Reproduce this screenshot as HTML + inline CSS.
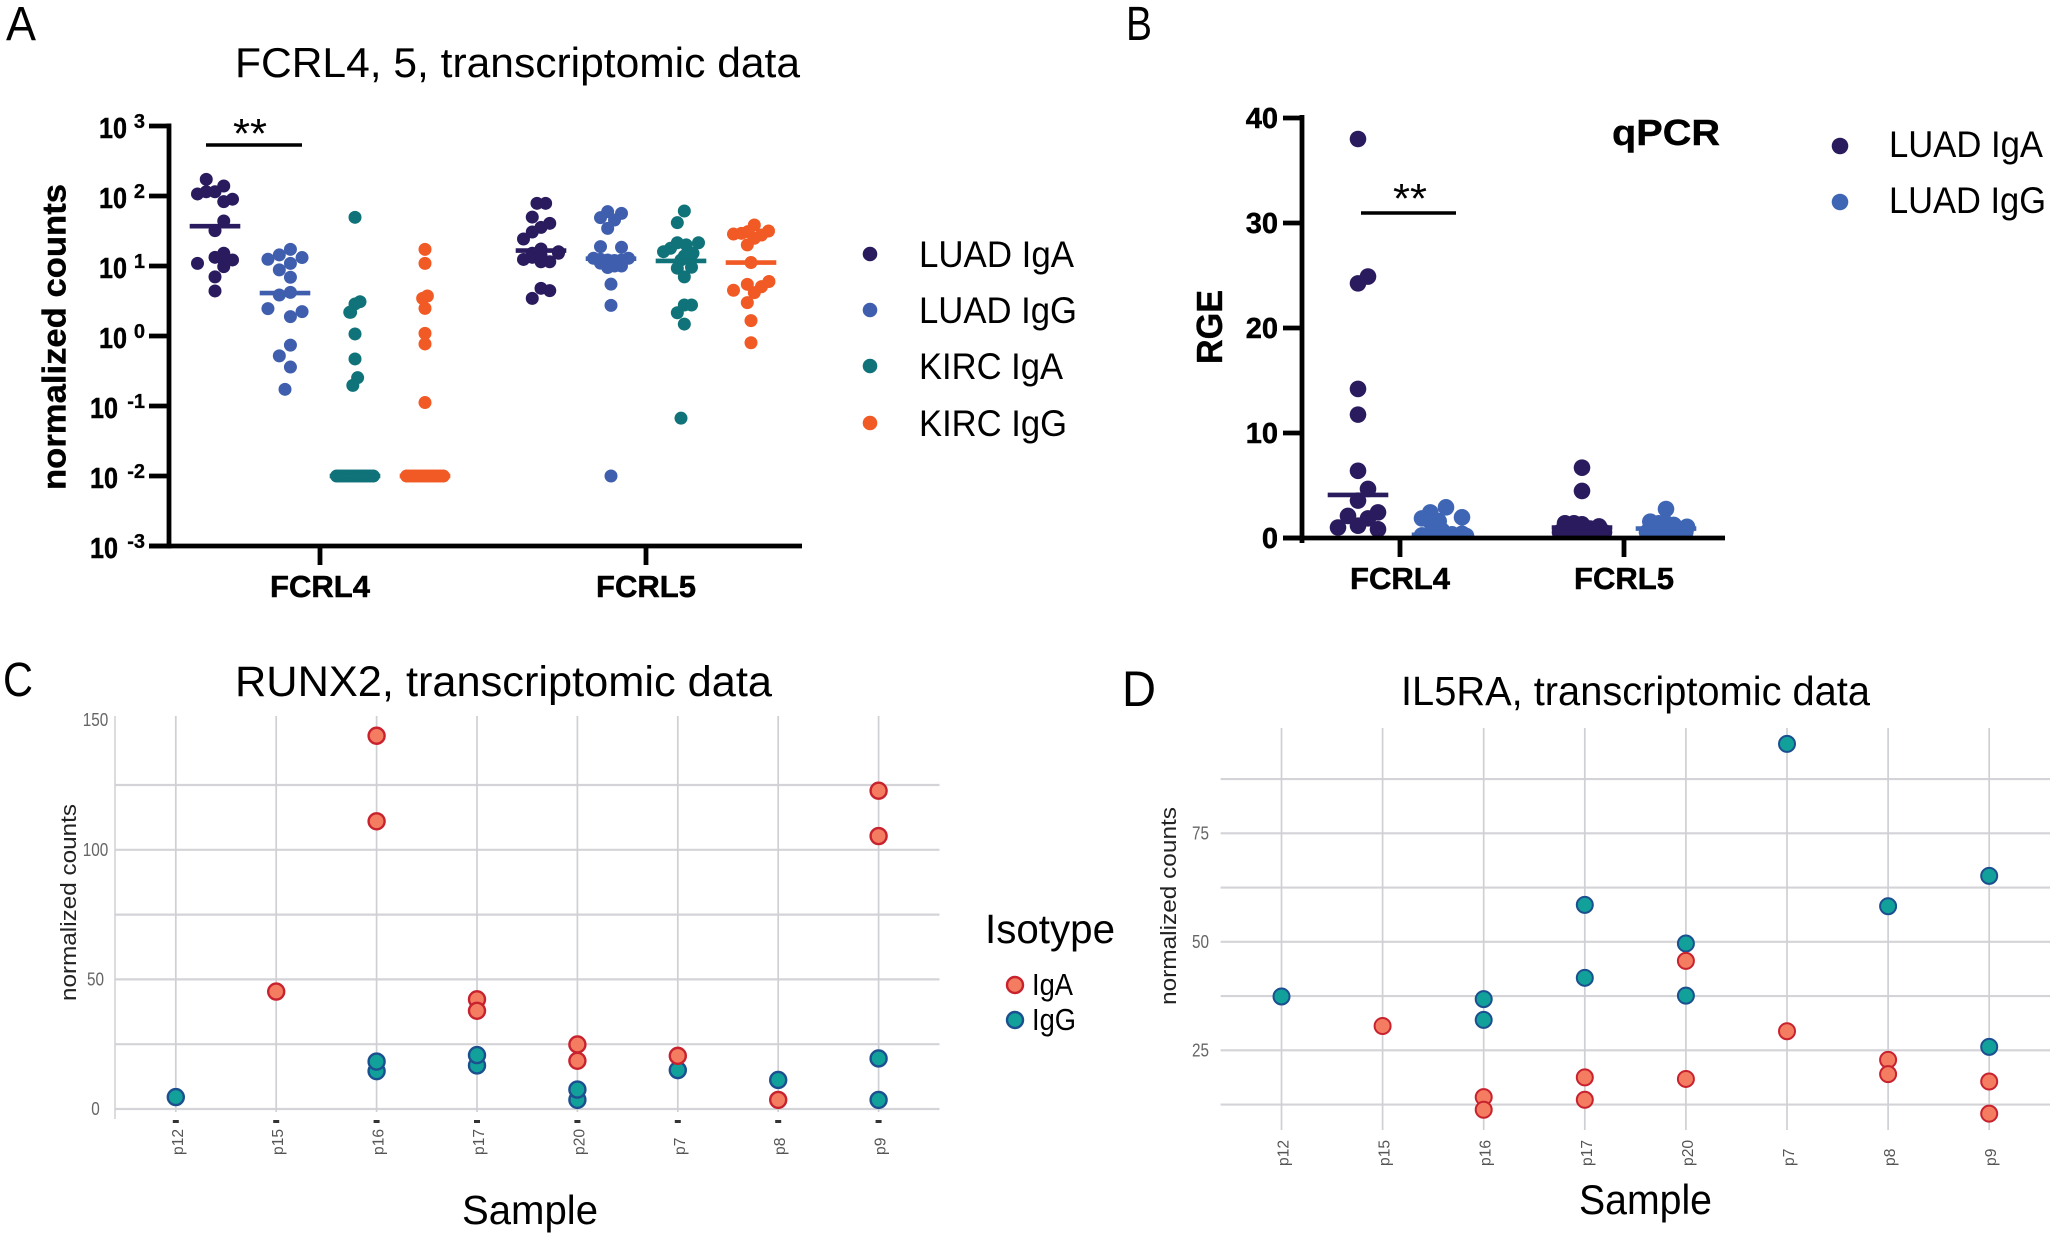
<!DOCTYPE html>
<html lang="en">
<head>
<meta charset="utf-8">
<title>FCRL4, FCRL5, RUNX2 and IL5RA expression</title>
<style>
html,body{margin:0;padding:0;background:#fff;}
svg{display:block;font-family:"Liberation Sans",sans-serif;}
</style>
</head>
<body>
<svg id="figure" xmlns="http://www.w3.org/2000/svg" width="2055" height="1238" viewBox="0 0 2055 1238">
  <defs>
    <clipPath id="panel-b-clip"><rect x="1290" y="100" width="450" height="440"/></clipPath>
  </defs>
  <rect x="0" y="0" width="2055" height="1238" fill="#fff"/>

  <text x="6" y="40" font-size="48" textLength="30" lengthAdjust="spacingAndGlyphs">A</text>
  <text x="1126" y="40" font-size="48" textLength="26" lengthAdjust="spacingAndGlyphs">B</text>
  <text x="3" y="696" font-size="48" textLength="30" lengthAdjust="spacingAndGlyphs">C</text>
  <text x="1122" y="706" font-size="50" textLength="34" lengthAdjust="spacingAndGlyphs">D</text>

  <g id="panel-a">
    <text x="235" y="77" font-size="42" textLength="565" lengthAdjust="spacingAndGlyphs">FCRL4, 5, transcriptomic data</text>
    <text transform="translate(65.5 490) rotate(-90)" font-size="33" font-weight="bold" stroke="#000" stroke-width="0.4" textLength="306" lengthAdjust="spacingAndGlyphs">normalized counts</text>
    <text x="233" y="148" font-size="42" textLength="34" lengthAdjust="spacingAndGlyphs">**</text>
    <line x1="206" y1="145" x2="302" y2="145" stroke="#000" stroke-width="3.6"/>
    <circle cx="870" cy="254" r="7.3" fill="#2a1a5e"/>
    <text x="919" y="267" font-size="37" textLength="155" lengthAdjust="spacingAndGlyphs">LUAD IgA</text>
    <circle cx="870" cy="310" r="7.3" fill="#3f5fae"/>
    <text x="919" y="323" font-size="37" textLength="158" lengthAdjust="spacingAndGlyphs">LUAD IgG</text>
    <circle cx="870" cy="366" r="7.3" fill="#0f7379"/>
    <text x="919" y="379" font-size="37" textLength="144" lengthAdjust="spacingAndGlyphs">KIRC IgA</text>
    <circle cx="870" cy="423" r="7.3" fill="#f15a24"/>
    <text x="919" y="436" font-size="37" textLength="148" lengthAdjust="spacingAndGlyphs">KIRC IgG</text>
  </g>

  <g id="panel-b">
    <text x="1612" y="145" font-size="36" font-weight="bold" stroke="#000" stroke-width="0.4" textLength="108" lengthAdjust="spacingAndGlyphs">qPCR</text>
    <text transform="translate(1222 364) rotate(-90)" font-size="36" font-weight="bold" stroke="#000" stroke-width="0.4" textLength="74" lengthAdjust="spacingAndGlyphs">RGE</text>
    <text x="1393" y="213" font-size="42" textLength="34" lengthAdjust="spacingAndGlyphs">**</text>
    <line x1="1361" y1="213" x2="1456" y2="213" stroke="#000" stroke-width="3.6"/>
    <circle cx="1840" cy="146" r="8.3" fill="#2a1a5e"/>
    <text x="1889" y="157" font-size="37" textLength="154" lengthAdjust="spacingAndGlyphs">LUAD IgA</text>
    <circle cx="1840" cy="202" r="8.3" fill="#3f66b4"/>
    <text x="1889" y="213" font-size="37" textLength="157" lengthAdjust="spacingAndGlyphs">LUAD IgG</text>
  </g>

  <g id="panel-c">
    <text x="235" y="696" font-size="43" textLength="537" lengthAdjust="spacingAndGlyphs">RUNX2, transcriptomic data</text>
    <text transform="translate(76 1001) rotate(-90)" font-size="22" fill="#222" textLength="197" lengthAdjust="spacingAndGlyphs">normalized counts</text>
    <text x="462" y="1224" font-size="41" textLength="136" lengthAdjust="spacingAndGlyphs">Sample</text>
    <text x="985" y="943" font-size="41" textLength="130" lengthAdjust="spacingAndGlyphs">Isotype</text>
    <circle cx="1015" cy="985" r="8" fill="#f47c60" stroke="#c8222e" stroke-width="2.4"/>
    <text x="1032" y="995" font-size="31" textLength="41" lengthAdjust="spacingAndGlyphs">IgA</text>
    <circle cx="1015" cy="1020" r="8" fill="#12a09a" stroke="#1c4f8f" stroke-width="2.4"/>
    <text x="1032" y="1030" font-size="31" textLength="44" lengthAdjust="spacingAndGlyphs">IgG</text>
  </g>

  <g id="panel-d">
    <text x="1401" y="705" font-size="41" textLength="469" lengthAdjust="spacingAndGlyphs">IL5RA, transcriptomic data</text>
    <text transform="translate(1176 1005) rotate(-90)" font-size="22" fill="#222" textLength="198" lengthAdjust="spacingAndGlyphs">normalized counts</text>
    <text x="1579" y="1214" font-size="42" textLength="133" lengthAdjust="spacingAndGlyphs">Sample</text>
  </g>
</svg>

<script>
/* ---------- Panel A: normalized counts per group ---------- */
const panelACategories = ["FCRL4", "FCRL5"];
const panelASeries = ["LUAD IgA", "LUAD IgG", "KIRC IgA", "KIRC IgG"];
const panelATickExponents = [3, 2, 1, 0, -1, -2, -3];
const panelAColors = ["#2a1a5e", "#3f5fae", "#0f7379", "#f15a24"];

const fcrl4LuadIga = [173, 139, 107, 115, 115, 83, 90, 44, 32, 13.3, 15.2, 12.2, 12.2, 9.8, 10.9, 7.0, 4.4];
const fcrl4LuadIgaSlots = [-1, 1, -2, -1, 0, 1, 2, 1, 0, 0, 1, 1, 2, 1, -2, 0, 0];
const fcrl4LuadIgg = [17.3, 14.4, 12.5, 13.2, 10.9, 8.8, 6.9, 3.85, 4.2, 2.46, 2.23, 1.89, 0.74, 0.52, 0.36, 0.173];
const fcrl4LuadIggSlots = [0.62, -0.65, -1.95, 1.95, 0.62, -0.65, 0.62, -0.65, 0.62, -1.95, 1.95, 0.62, 0.62, -0.65, 0.62, 0];
const fcrl4KircIga = [49.6, 3.09, 2.87, 2.18, 2.18, 1.07, 0.47, 0.254, 0.197, 0.01, 0.01, 0.01, 0.01, 0.01, 0.01, 0.01, 0.01, 0.01, 0.01, 0.01, 0.01, 0.01];
const fcrl4KircIgaSlots = [0, 0.57, 0, -0.5, -0.6, 0, 0, 0.3, -0.25, -2.1, -1.75, -1.4, -1.05, -0.7, -0.35, 0, 0.35, 0.7, 1.05, 1.4, 1.75, 2.1];
const fcrl4KircIgg = [17.3, 10.9, 3.73, 3.45, 2.48, 1.09, 0.77, 0.112, 0.01, 0.01, 0.01, 0.01, 0.01, 0.01, 0.01, 0.01, 0.01, 0.01, 0.01, 0.01, 0.01];
const fcrl4KircIggSlots = [0, 0, 0.27, -0.27, 0, 0, 0, 0, -2.1, -1.75, -1.4, -1.05, -0.7, -0.35, 0, 0.35, 0.7, 1.05, 1.4, 1.75, 2.1];

const fcrl5LuadIga = [78.6, 78.6, 50, 40.7, 35.6, 30.6, 24.3, 17.5, 16, 12.4, 13.3, 11.5, 11.5, 14.3, 15.2, 15.2, 4.8, 4.45, 3.45];
const fcrl5LuadIgaSlots = [-0.46, 0.53, -1, 1, 0, -1, -2, 0, 2, -2, -1, 0, 1, 0, -1, 2, 0, 1, -1];
const fcrl5LuadIgg = [59.7, 56.5, 49, 45.4, 34.5, 18.9, 18.5, 12.9, 12.5, 12.2, 12, 12.2, 12.9, 11, 9.5, 10, 10, 5.5, 2.74, 0.01];
const fcrl5LuadIggSlots = [-0.38, 1.2, -1.2, 0.4, -0.38, -1.2, 1.2, -2, -1.2, -0.38, 0.4, 1.2, 2, -1.2, -0.38, 0.4, 1.2, 0, 0, 0];
const fcrl5KircIga = [61, 41.6, 21.5, 21.5, 17.9, 16, 20, 15.2, 13.9, 12.2, 9.3, 9.6, 7, 2.77, 2.77, 2.15, 1.48, 0.067];
const fcrl5KircIgaSlots = [0.38, -0.42, 2, -0.42, -1.2, -2, 0.6, 1.37, 0.38, 0, -0.42, 1.2, 0.38, 0.38, 1.2, -0.42, 0.38, 0];
const fcrl5KircIgg = [38.5, 31.6, 28.6, 29.3, 31, 27.7, 24.9, 20, 11.2, 6, 5.07, 5.47, 4.5, 4.16, 3, 1.66, 0.8];
const fcrl5KircIggSlots = [0.38, 2, -2, -1.1, -0.35, 1.2, 0.38, -0.42, 0, 2.05, 1.2, -0.42, -2, 0.38, -0.42, 0, 0];

const fcrl4Medians = [37, 4.1, 0.01, 0.01];
const fcrl5Medians = [16.6, 12.7, 11.8, 11.2];

/* ---------- Panel B: RGE per group ---------- */
const panelBCategories = ["FCRL4", "FCRL5"];
const panelBSeries = ["LUAD IgA", "LUAD IgG"];
const panelBTicks = [0, 10, 20, 30, 40];
const panelBColors = ["#2a1a5e", "#3f66b4"];

const rgeFcrl4Iga = [38, 24.25, 24.9, 14.2, 11.75, 6.4, 4.67, 3.56, 2.44, 2.1, 1.87, 1.17, 1.0, 0.83];
const rgeFcrl4IgaSlots = [0, 0, 1, 0, 0, 0, 1, 0, 2, -1, 1, 0, -2, 2];
const rgeFcrl4Igg = [2.92, 2.44, 1.97, 1.87, 1.6, 1.6, 1.0, 0.25, 0.5, 0.7, 0.35, 0.4, 0.2];
const rgeFcrl4IggSlots = [0.4, -1.17, 2, -2, -0.33, -1.17, -0.33, -2, -1, 0, 1, 2, 2.4];
const rgeFcrl5Iga = [6.7, 4.48, 1.4, 1.4, 1.3, 0.9, 1.1, 0.55, 0.55, 0.55, 0.55, 0.55, 0.55];
const rgeFcrl5IgaSlots = [0, 0, -1.7, -0.8, 0, 0.8, 1.7, -2.2, -1.3, -0.4, 0.5, 1.4, 2.2];
const rgeFcrl5Igg = [2.76, 1.56, 1.4, 1.4, 1.25, 1.07, 0.55, 0.55, 0.55, 0.55, 0.55];
const rgeFcrl5IggSlots = [0, -1.57, -0.73, 0, 0.77, 2.1, -1.9, -0.9, 0.1, 1.1, 1.93];

const rgeFcrl4Medians = [4.1, 0.3];
const rgeFcrl5Medians = [1.0, 0.9];

/* ---------- Panels C and D: per-sample counts ---------- */
const samples = ["p12", "p15", "p16", "p17", "p20", "p7", "p8", "p9"];

const runx2IgaSamples = ["p15", "p16", "p16", "p17", "p17", "p20", "p20", "p7", "p8", "p9", "p9"];
const runx2IgaValues = [45.3, 144, 111, 42.3, 37.9, 24.9, 18.6, 20.5, 3.5, 122.8, 105.3];
const runx2IggSamples = ["p12", "p16", "p16", "p17", "p17", "p20", "p20", "p7", "p8", "p9", "p9"];
const runx2IggValues = [4.6, 14.6, 18.3, 16.8, 20.8, 3.5, 7.5, 15, 11.2, 19.5, 3.5];
const runx2TickLabels = [0, 50, 100, 150];
const runx2GridValues = [0, 25, 50, 75, 100, 125];

const il5raIgaSamples = ["p15", "p16", "p16", "p17", "p17", "p20", "p20", "p7", "p8", "p8", "p9", "p9"];
const il5raIgaValues = [30.6, 14.2, 11.3, 18.75, 13.6, 45.6, 18.4, 29.4, 22.8, 19.5, 17.8, 10.4];
const il5raIggSamples = ["p12", "p16", "p16", "p17", "p17", "p20", "p20", "p7", "p8", "p9", "p9"];
const il5raIggValues = [37.4, 36.8, 32, 58.5, 41.7, 49.6, 37.6, 95.6, 58.2, 65.2, 25.8];
const il5raTickLabels = [25, 50, 75];
const il5raGridValues = [12.5, 25, 37.5, 50, 62.5, 75, 87.5];

/* ---------- Drawing ---------- */
const SVG_NS = "http://www.w3.org/2000/svg";

function make(parent, tag, attrs, text) {
  const el = document.createElementNS(SVG_NS, tag);
  for (const key in attrs) el.setAttribute(key, attrs[key]);
  if (text !== undefined) el.textContent = text;
  parent.appendChild(el);
  return el;
}

/* Panel A scales */
const yA = v => 336 - 70 * Math.log10(v);
const catXA = c => 320 + 326 * c;
const seriesXA = (c, s) => catXA(c) + (s - 1.5) * 70;
const SLOT_A = 8.75;

const panelA = document.getElementById("panel-a");

const axisAY = make(panelA, "line", {x1: 169, y1: yA(1000) - 2.5, x2: 169, y2: yA(0.001) + 2.5, stroke: "#000", "stroke-width": 4.8});


const axisAX = make(panelA, "line", {x1: 149, y1: yA(0.001), x2: 802, y2: yA(0.001), stroke: "#000", "stroke-width": 4.8});



panelATickExponents.forEach(exp => {
  const y = yA(Math.pow(10, exp));
  const tick = make(panelA, "line", {x1: 149, y1: y, x2: 169, y2: y, stroke: "#000", "stroke-width": 4.8});
  
  
  const base = make(panelA, "text", {x: exp < 0 ? 118 : 127, y: y + 12, "font-size": 29, "font-weight": "bold", stroke: "#000", "stroke-width": 0.5, "text-anchor": "end", textLength: 28, lengthAdjust: "spacingAndGlyphs"}, "10");
  
  
  const power = make(panelA, "text", {x: 145, y: y + 2, "font-size": 20, "font-weight": "bold", stroke: "#000", "stroke-width": 0.3, "text-anchor": "end"}, String(exp));
  
  
});

panelACategories.forEach((name, c) => {
  const x = catXA(c);
  const tick = make(panelA, "line", {x1: x, y1: yA(0.001), x2: x, y2: 565, stroke: "#000", "stroke-width": 4.8});
  
  
  const label = make(panelA, "text", {x: x, y: 597, "font-size": 31, "font-weight": "bold", stroke: "#000", "stroke-width": 0.5, "text-anchor": "middle", textLength: 100, lengthAdjust: "spacingAndGlyphs"}, name);
  
  
});

const panelAValues = [
  [fcrl4LuadIga, fcrl4LuadIgg, fcrl4KircIga, fcrl4KircIgg],
  [fcrl5LuadIga, fcrl5LuadIgg, fcrl5KircIga, fcrl5KircIgg]
];
const panelASlots = [
  [fcrl4LuadIgaSlots, fcrl4LuadIggSlots, fcrl4KircIgaSlots, fcrl4KircIggSlots],
  [fcrl5LuadIgaSlots, fcrl5LuadIggSlots, fcrl5KircIgaSlots, fcrl5KircIggSlots]
];
const panelAMedians = [fcrl4Medians, fcrl5Medians];

panelAValues.forEach((group, c) => {
  group.forEach((vals, s) => {
    const cx = seriesXA(c, s);
    vals.forEach((v, i) => {
      const dot = make(panelA, "circle", {cx: cx + panelASlots[c][s][i] * SLOT_A, cy: yA(v), r: 6.5, fill: panelAColors[s]});
      
      
    });
    const m = yA(panelAMedians[c][s]);
    const med = make(panelA, "line", {x1: cx - 25.3, y1: m, x2: cx + 25.3, y2: m, stroke: panelAColors[s], "stroke-width": 4.6});
    
    
  });
});

/* Panel B scales */
const yB = v => 538 - 10.5 * v;
const catXB = c => 1400 + 224 * c;
const seriesXB = (c, s) => catXB(c) + (s - 0.5) * 84;
const SLOT_B = 10;

const panelB = document.getElementById("panel-b");

const axisBY = make(panelB, "line", {x1: 1302, y1: yB(40) - 3, x2: 1302, y2: yB(0) + 5, stroke: "#000", "stroke-width": 4.8});



panelBTicks.forEach(v => {
  const y = yB(v);
  const tick = make(panelB, "line", {x1: 1283, y1: y, x2: 1302, y2: y, stroke: "#000", "stroke-width": 4.8});
  
  
  const label = make(panelB, "text", {x: 1278, y: y + 10, "font-size": 29, "font-weight": "bold", stroke: "#000", "stroke-width": 0.5, "text-anchor": "end"}, String(v));
  
  
});

panelBCategories.forEach((name, c) => {
  const x = catXB(c);
  const tick = make(panelB, "line", {x1: x, y1: yB(0), x2: x, y2: 557, stroke: "#000", "stroke-width": 4.8});
  
  
  const label = make(panelB, "text", {x: x, y: 589, "font-size": 31, "font-weight": "bold", stroke: "#000", "stroke-width": 0.5, "text-anchor": "middle", textLength: 100, lengthAdjust: "spacingAndGlyphs"}, name);
  
  
});

const panelBMarks = make(panelB, "g", {"clip-path": "url(#panel-b-clip)"});



const panelBValues = [[rgeFcrl4Iga, rgeFcrl4Igg], [rgeFcrl5Iga, rgeFcrl5Igg]];
const panelBSlots = [[rgeFcrl4IgaSlots, rgeFcrl4IggSlots], [rgeFcrl5IgaSlots, rgeFcrl5IggSlots]];
const panelBMedians = [rgeFcrl4Medians, rgeFcrl5Medians];

panelBValues.forEach((group, c) => {
  group.forEach((vals, s) => {
    const cx = seriesXB(c, s);
    vals.forEach((v, i) => {
      const dot = make(panelBMarks, "circle", {cx: cx + panelBSlots[c][s][i] * SLOT_B, cy: yB(v), r: 8.3, fill: panelBColors[s]});
      
      
    });
    const m = yB(panelBMedians[c][s]);
    const med = make(panelBMarks, "line", {x1: cx - 30.3, y1: m, x2: cx + 30.3, y2: m, stroke: panelBColors[s], "stroke-width": 4.6});
    
    
  });
});

const axisBX = make(panelB, "line", {x1: 1283, y1: yB(0), x2: 1725, y2: yB(0), stroke: "#000", "stroke-width": 4.8});



/* Panels C and D share one drawing routine */
function drawSamplePanel(cfg) {
  const g = document.getElementById(cfg.id);
  const gridLayer = make(g, "g", {});
  
  

  cfg.gridValues.forEach(v => {
    const line = make(gridLayer, "line", {x1: cfg.left, y1: cfg.y(v), x2: cfg.right, y2: cfg.y(v), stroke: "#d4d4d8", "stroke-width": 2.2});
    
    
  });
  samples.forEach((name, i) => {
    const x = cfg.x(i);
    const line = make(gridLayer, "line", {x1: x, y1: cfg.top, x2: x, y2: cfg.bottom, stroke: "#cfd0d4", "stroke-width": 1.7});
    
    
    if (cfg.showTicks) {
      const tick = make(g, "rect", {x: x - 3, y: cfg.tickY, width: 6, height: 3, fill: "#333"});
      
      
    }
    const label = make(g, "text", {transform: "translate(" + (x + 7) + " " + cfg.labelY + ") rotate(-90)", "font-size": 16, fill: "#555", textLength: name.length * 8.7, lengthAdjust: "spacingAndGlyphs"}, name);
    
    
  });
  cfg.tickLabels.forEach(v => {
    const label = make(g, "text", {x: cfg.labelX, y: cfg.y(v) + 6, "font-size": 18, fill: "#666", "text-anchor": "middle", textLength: String(v).length * 8.5, lengthAdjust: "spacingAndGlyphs"}, String(v));
    
    
  });

  cfg.igg.samples.forEach((name, i) => {
    const dot = make(g, "circle", {cx: cfg.x(samples.indexOf(name)), cy: cfg.y(cfg.igg.values[i]), r: cfg.r, fill: "#12a09a", stroke: "#1c4f8f", "stroke-width": cfg.sw});
    
    
  });
  cfg.iga.samples.forEach((name, i) => {
    const dot = make(g, "circle", {cx: cfg.x(samples.indexOf(name)), cy: cfg.y(cfg.iga.values[i]), r: cfg.r, fill: "#f47c60", stroke: "#c8222e", "stroke-width": cfg.sw});
    
    
  });
}

drawSamplePanel({
  id: "panel-c",
  left: 115, right: 939.5, top: 716, bottom: 1112, tickY: 1120, labelY: 1155, labelX: 95.5,
  showTicks: true, r: 8, sw: 2.4,
  x: i => 175.8 + 100.4 * i,
  y: v => 1109 - 2.592 * v,
  gridValues: runx2GridValues,
  tickLabels: runx2TickLabels,
  iga: {samples: runx2IgaSamples, values: runx2IgaValues},
  igg: {samples: runx2IggSamples, values: runx2IggValues}
});

const panelCAxisLine = make(document.getElementById("panel-c"), "line", {x1: 115, y1: 716, x2: 115, y2: 1119, stroke: "#cfd0d4", "stroke-width": 1.5});



drawSamplePanel({
  id: "panel-d",
  left: 1220.6, right: 2050, top: 728, bottom: 1130, tickY: 0, labelY: 1166, labelX: 1200.5,
  showTicks: false, r: 8, sw: 2,
  x: i => 1281.5 + 101.1 * i,
  y: v => 1050.3 - (v - 25) * 4.34,
  gridValues: il5raGridValues,
  tickLabels: il5raTickLabels,
  iga: {samples: il5raIgaSamples, values: il5raIgaValues},
  igg: {samples: il5raIggSamples, values: il5raIggValues}
});
</script>
</body>
</html>
